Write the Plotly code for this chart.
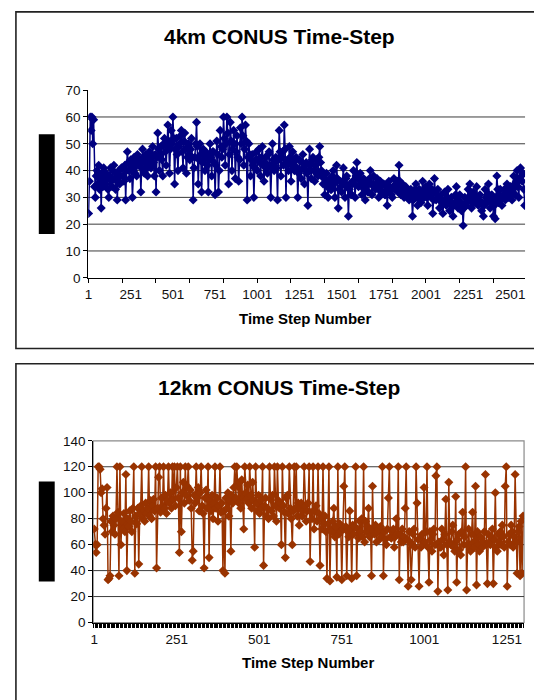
import plotly.graph_objects as go

W, H = 534, 700

# ---------------- data ----------------
# 4km CONUS: time-step number (sampled every 5 steps) and value
steps_4km = list(range(1, 2587, 5))
time_4km = [
    24, 36, 60, 55, 60, 50, 59, 34, 30, 38, 40, 35, 42, 33, 37, 26, 39, 34, 41, 36,
    35, 39, 37, 33, 30, 38, 41, 36, 34, 40, 42, 37, 33, 39, 29, 36, 40, 35, 38, 41,
    41, 38, 36, 42, 29, 40, 47, 43, 40, 37, 44, 41, 30, 42, 45, 39, 43, 38, 46, 42,
    42, 44, 32, 41, 48, 45, 39, 43, 46, 41, 38, 44, 47, 42, 41, 45, 49, 43, 38, 46,
    32, 45, 54, 48, 40, 46, 49, 44, 38, 50, 52, 47, 42, 49, 57, 51, 39, 48, 55, 50,
    60, 52, 35, 48, 52, 46, 40, 49, 50, 53, 55, 47, 41, 51, 54, 48, 39, 45, 50, 46,
    44, 48, 52, 45, 29, 41, 45, 50, 58, 49, 35, 44, 50, 46, 32, 43, 48, 44, 40, 47,
    46, 42, 32, 44, 50, 45, 38, 47, 47, 43, 31, 42, 51, 46, 32, 40, 55, 49, 45, 48,
    60, 52, 42, 50, 60, 54, 35, 46, 58, 51, 40, 48, 55, 50, 37, 47, 53, 45, 36, 44,
    56, 50, 60, 53, 42, 48, 57, 51, 29, 45, 50, 46, 38, 44, 46, 42, 30, 41, 44, 47,
    40, 44, 48, 43, 38, 45, 49, 42, 36, 43, 45, 41, 39, 46, 47, 42, 30, 41, 50, 44,
    40, 43, 45, 41, 29, 44, 55, 47, 38, 45, 47, 42, 57, 48, 30, 43, 44, 40, 49, 45,
    36, 42, 47, 43, 40, 44, 45, 41, 30, 39, 44, 40, 37, 43, 46, 41, 35, 42, 43, 39,
    27, 40, 48, 42, 37, 44, 45, 40, 36, 42, 44, 39, 38, 45, 49, 43, 40, 38, 35, 37,
    31, 35, 39, 34, 30, 36, 37, 33, 33, 38, 40, 35, 30, 36, 42, 37, 26, 33, 36, 34,
    32, 36, 41, 35, 30, 37, 38, 34, 23, 33, 35, 31, 31, 36, 40, 35, 30, 38, 43, 37,
    34, 37, 39, 35, 31, 36, 37, 33, 29, 34, 36, 32, 32, 37, 40, 35, 31, 35, 38, 34,
    33, 35, 37, 34, 30, 33, 36, 32, 32, 35, 35, 31, 31, 34, 27, 32, 36, 34, 33, 31,
    30, 34, 37, 33, 33, 35, 36, 32, 42, 36, 31, 34, 35, 32, 30, 33, 34, 31, 32, 30,
    29, 32, 33, 30, 23, 29, 31, 33, 35, 31, 27, 30, 33, 29, 28, 32, 36, 31, 30, 33,
    34, 30, 27, 31, 35, 32, 30, 33, 24, 29, 37, 32, 29, 31, 33, 30, 26, 29, 31, 28,
    24, 28, 32, 29, 27, 30, 33, 29, 25, 28, 30, 27, 23, 27, 28, 31, 34, 30, 26, 29,
    31, 28, 25, 27, 19.5, 26, 30, 28, 27, 29, 33, 30, 35, 31, 26, 28, 32, 29, 28, 30,
    34, 30, 27, 29, 31, 28, 25, 28, 23, 27, 33, 30, 28, 31, 35, 31, 26, 29, 31, 28,
    23, 27, 22, 30, 38, 33, 28, 31, 33, 30, 27, 30, 31, 33, 29, 32, 35, 31, 30, 33,
    34, 31, 29, 33, 38, 35, 31, 36, 40, 34, 30, 37, 41, 38, 36, 39, 33, 27,
]

# 12km CONUS: time-step number (sampled every 3 steps) and value
steps_12km = list(range(1, 1301, 3))
time_12km = [
    72, 60, 54, 60, 120, 120, 118, 100, 103, 80, 75, 68, 88, 104, 33, 34, 36, 78, 70, 82, 75, 68, 80, 120, 85,
    36, 120, 60, 78, 72, 84, 70, 114, 40, 80, 74, 86, 78, 70, 88, 120, 38, 82, 76, 88, 45, 84, 90, 120, 80,
    86, 78, 92, 84, 88, 120, 82, 94, 80, 90, 95, 86, 120, 42, 88, 112, 120, 85, 96, 90, 120, 88, 98, 84, 94,
    120, 92, 100, 88, 120, 95, 120, 90, 104, 120, 96, 54, 120, 70, 100, 108, 92, 120, 98, 105, 120, 94, 102, 88, 48,
    55, 98, 92, 120, 96, 104, 86, 100, 120, 90, 84, 42, 96, 102, 88, 120, 50, 94, 86, 98, 80, 92, 120, 88, 96,
    78, 90, 120, 85, 92, 40, 86, 38, 96, 88, 100, 82, 94, 55, 98, 92, 104, 120, 96, 120, 105, 92, 108, 88, 110,
    96, 72, 120, 100, 95, 106, 92, 120, 98, 88, 108, 94, 58, 120, 92, 86, 98, 84, 94, 88, 120, 44, 90, 96, 82,
    88, 80, 120, 95, 86, 98, 82, 120, 90, 78, 120, 94, 88, 92, 60, 120, 90, 85, 50, 96, 98, 84, 120, 88, 80,
    60, 86, 120, 88, 120, 82, 92, 75, 88, 92, 82, 86, 120, 90, 78, 86, 92, 120, 47, 85, 80, 120, 72, 86, 90,
    78, 120, 84, 44, 80, 72, 120, 76, 82, 70, 34, 76, 120, 32, 72, 70, 78, 88, 66, 74, 35, 120, 68, 76, 70,
    33, 72, 105, 120, 74, 36, 70, 66, 86, 72, 34, 75, 68, 74, 120, 36, 72, 65, 78, 70, 80, 66, 120, 62, 78,
    70, 74, 88, 66, 72, 36, 105, 70, 68, 75, 62, 70, 72, 64, 74, 66, 120, 36, 70, 64, 60, 72, 96, 120, 66,
    65, 70, 72, 58, 66, 80, 68, 120, 33, 68, 62, 72, 62, 66, 88, 120, 64, 28, 70, 62, 33, 60, 68, 72, 58,
    120, 92, 64, 28, 65, 58, 68, 60, 104, 62, 70, 120, 58, 31, 70, 64, 55, 68, 72, 60, 113, 120, 24, 62, 58,
    58, 72, 64, 52, 68, 95, 60, 25, 108, 62, 60, 70, 75, 58, 55, 97, 31, 64, 68, 56, 52, 70, 85, 60, 66,
    120, 25, 60, 72, 58, 55, 68, 85, 62, 58, 105, 29, 70, 60, 55, 66, 65, 58, 62, 70, 114, 60, 30, 68, 62,
    60, 66, 72, 30, 64, 100, 58, 55, 68, 62, 70, 60, 75, 66, 58, 105, 120, 28, 62, 68, 60, 75, 70, 58, 66,
    114, 62, 38, 70, 74, 36, 78, 38, 82,
]

assert len(steps_4km) == len(time_4km), (len(steps_4km), len(time_4km))
assert len(steps_12km) == len(time_12km), (len(steps_12km), len(time_12km))

xlabels_4km = [1, 251, 501, 751, 1001, 1251, 1501, 1751, 2001, 2251, 2501]
xlabels_12km = [1, 251, 501, 751, 1001, 1251]
grid_4km = [10, 20, 30, 40, 50, 60]
grid_12km = [20, 40, 60, 80, 100, 120]

title_4km = "4km CONUS Time-Step"
title_12km = "12km CONUS Time-Step"
xtitle = "Time Step Number"

# ---------------- helpers ----------------
def px(x):
    return x / W


def py(y):
    return (H - y) / H


FONT = "Liberation Sans, Arial, sans-serif"
tickfont = dict(family=FONT, size=13.5, color="#111111")
GRID = "#3c3c3c"

fig = go.Figure()
fig.add_trace(go.Scatter(
    x=steps_4km, y=time_4km, mode="lines+markers",
    line=dict(color="#000080", width=1.5),
    marker=dict(symbol="diamond", size=7, color="#000080"),
    xaxis="x", yaxis="y", showlegend=False, hoverinfo="skip",
))
fig.add_trace(go.Scatter(
    x=steps_12km, y=time_12km, mode="lines+markers",
    line=dict(color="#993300", width=1.5),
    marker=dict(symbol="diamond", size=7, color="#993300"),
    xaxis="x2", yaxis="y2", showlegend=False, hoverinfo="skip",
))

common_x = dict(
    tickmode="array", showline=True, linecolor="black", linewidth=1,
    ticks="outside", ticklen=4, tickcolor="rgba(0,0,0,0)",
    showgrid=False, zeroline=False, tickfont=tickfont,
)
common_y = dict(
    tick0=0, showline=True, linecolor="black", linewidth=1,
    ticks="outside", ticklen=4, tickcolor="black",
    showgrid=False, zeroline=False, tickfont=tickfont,
)

fig.update_layout(
    width=W, height=H, autosize=False,
    margin=dict(l=0, r=0, t=0, b=0),
    paper_bgcolor="white", plot_bgcolor="rgba(0,0,0,0)", showlegend=False,
    xaxis=dict(
        domain=[px(85.7), px(525)], range=[-1, 2588], anchor="y",
        tickvals=xlabels_4km, ticktext=[str(v) for v in xlabels_4km],
        minor=dict(ticks="outside", ticklen=4, tickcolor="black",
                   tickmode="linear", tick0=0, dtick=200, showgrid=False),
        **common_x,
    ),
    yaxis=dict(
        domain=[py(276.7), py(85)], range=[0, 70], anchor="x", dtick=10,
        **common_y,
    ),
    xaxis2=dict(
        domain=[px(90.7), px(524)], range=[-2, 1303], anchor="y2",
        tickvals=xlabels_12km, ticktext=[str(v) for v in xlabels_12km],
        minor=dict(ticks="outside", ticklen=4, tickcolor="black", tickwidth=1.3,
                   tickmode="linear", tick0=0, dtick=4, showgrid=False),
        **common_x,
    ),
    yaxis2=dict(
        domain=[py(629), py(443.3)], range=[0, 140], anchor="x2", dtick=20,
        **common_y,
    ),
)

shapes = [
    # chart boxes
    dict(type="rect", xref="paper", yref="paper",
         x0=px(13), x1=px(545), y0=py(349), y1=py(5),
         line=dict(color="#222222", width=1.6), fillcolor="rgba(0,0,0,0)", layer="below"),
    dict(type="rect", xref="paper", yref="paper",
         x0=px(13), x1=px(545), y0=py(720), y1=py(364.5),
         line=dict(color="#222222", width=1.6), fillcolor="rgba(0,0,0,0)", layer="below"),
    # plot-area border of lower chart
    dict(type="rect", xref="x2 domain", yref="y2 domain", x0=0, x1=1, y0=0, y1=1,
         line=dict(color="#8a8a8a", width=1.2), fillcolor="rgba(0,0,0,0)", layer="below"),
    # redacted y-axis titles
    dict(type="rect", xref="paper", yref="paper",
         x0=px(36), x1=px(52), y0=py(232), y1=py(130),
         line=dict(width=0), fillcolor="black", layer="above"),
    dict(type="rect", xref="paper", yref="paper",
         x0=px(36), x1=px(52), y0=py(587), y1=py(485),
         line=dict(width=0), fillcolor="black", layer="above"),
]
for g in grid_4km:
    shapes.append(dict(type="line", xref="x domain", yref="y", x0=0, x1=1, y0=g, y1=g,
                       line=dict(color=GRID, width=1), layer="below"))
for g in grid_12km:
    shapes.append(dict(type="line", xref="x2 domain", yref="y2", x0=0, x1=1, y0=g, y1=g,
                       line=dict(color=GRID, width=1), layer="below"))
fig.update_layout(shapes=shapes)

annotations = [
    dict(text=f"<b>{title_4km}</b>", x=px(278), y=py(30), xref="paper", yref="paper",
         showarrow=False, xanchor="center", yanchor="middle",
         font=dict(family=FONT, size=21, color="black")),
    dict(text=f"<b>{title_12km}</b>", x=px(278), y=py(389), xref="paper", yref="paper",
         showarrow=False, xanchor="center", yanchor="middle",
         font=dict(family=FONT, size=21, color="black")),
    dict(text=f"<b>{xtitle}</b>", x=px(304), y=py(318), xref="paper", yref="paper",
         showarrow=False, xanchor="center", yanchor="middle",
         font=dict(family=FONT, size=15, color="black")),
    dict(text=f"<b>{xtitle}</b>", x=px(307), y=py(670), xref="paper", yref="paper",
         showarrow=False, xanchor="center", yanchor="middle",
         font=dict(family=FONT, size=15, color="black")),
]
fig.update_layout(annotations=annotations)

POST = (
    "var gd=document.getElementById('{plot_id}');"
    "gd.style.position='fixed';gd.style.left='0px';gd.style.top='0px';gd.style.margin='0px';"
    "document.documentElement.style.margin='0px';document.documentElement.style.padding='0px';"
    "document.documentElement.style.overflow='hidden';"
    "document.body.style.margin='0px';document.body.style.padding='0px';"
    "document.body.style.overflow='hidden';"
)

fig.write_html(
    "out.html",
    config={"displayModeBar": False},
    post_script=POST,
)
